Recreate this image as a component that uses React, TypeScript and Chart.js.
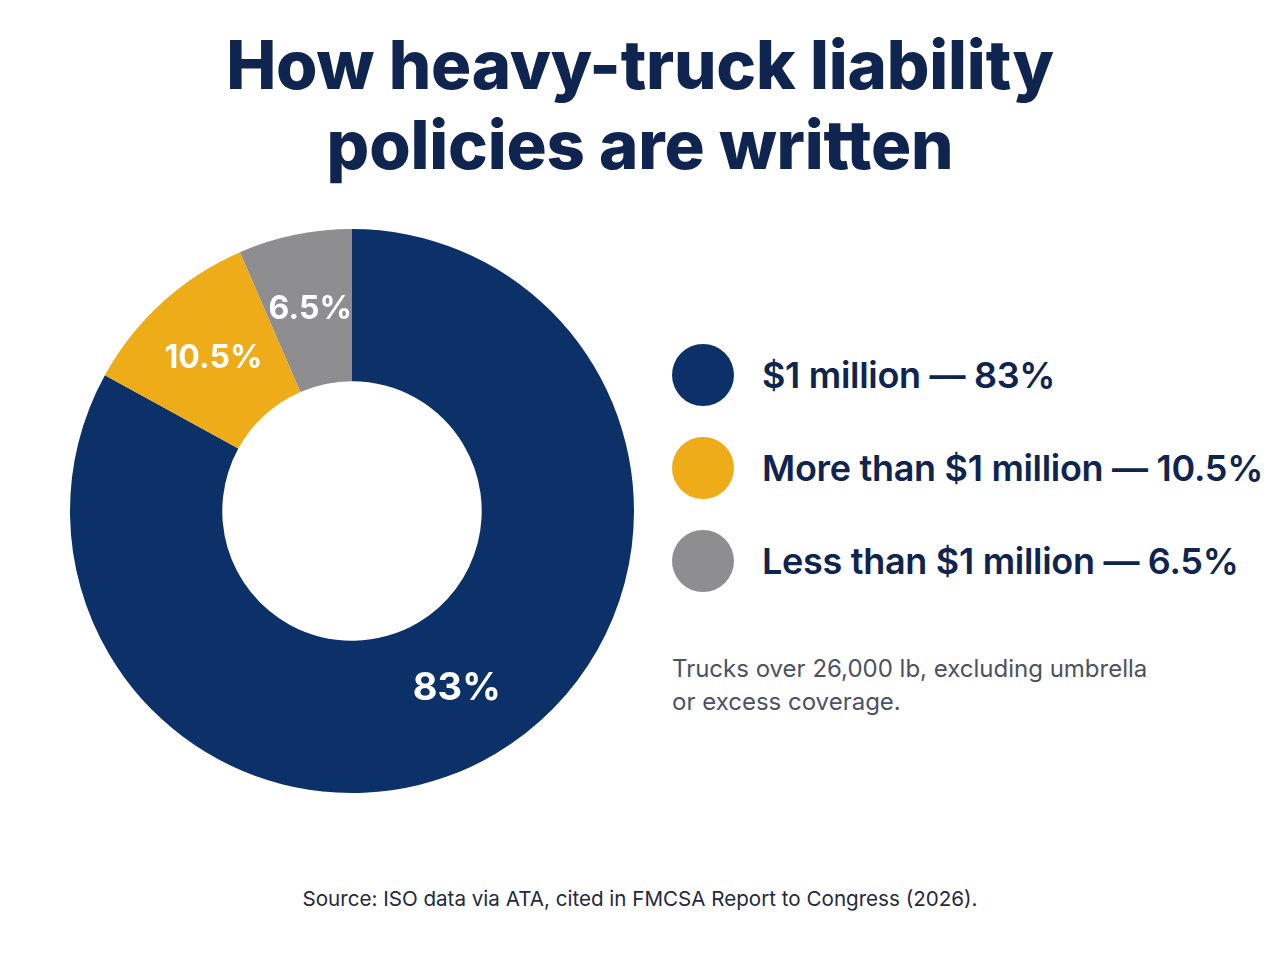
import { Chart, registerables } from "chart.js";
import React, { useEffect, useRef } from "react";

Chart.register(...registerables);

const categories = ["$1 million", "More than $1 million", "Less than $1 million"];
const shares = [83, 10.5, 6.5];
const sliceColors = ["#0b3168", "#eeac18", "#8e8e90"];
const shareLabels = ["83%", "10.5%", "6.5%"];

const NAVY_TEXT = "#0f2550";
const FONT = "Inter, 'Noto Sans', sans-serif";

const sliceLabels = {
  id: "sliceLabels",
  afterDatasetsDraw(chart: Chart) {
    const ctx = chart.ctx;
    const meta = chart.getDatasetMeta(0);
    ctx.save();
    ctx.fillStyle = "#ffffff";
    ctx.textAlign = "center";
    ctx.textBaseline = "middle";
    meta.data.forEach((arc: any, i: number) => {
      const size = i === 0 ? 38 : 32;
      ctx.font = `700 ${size}px ${FONT}`;
      const p = arc.tooltipPosition();
      ctx.fillText(shareLabels[i], p.x, p.y);
    });
    ctx.restore();
  },
};

const App: React.FC = () => {
  const chartRef = useRef<HTMLCanvasElement | null>(null);

  useEffect(() => {
    document.body.style.margin = "0";
    if (!chartRef.current) return;
    const chart = new Chart(chartRef.current, {
      type: "doughnut",
      data: {
        labels: categories,
        datasets: [
          {
            data: shares,
            backgroundColor: sliceColors,
            borderWidth: 0,
          },
        ],
      },
      options: {
        responsive: false,
        animation: false,
        cutout: "46%",
        layout: { padding: 10 },
        plugins: {
          legend: { display: false },
          tooltip: { enabled: false },
        },
      },
      plugins: [sliceLabels],
    });
    return () => {
      chart.destroy();
    };
  }, []);

  return (
    <div
      style={{
        position: "absolute",
        left: 0,
        top: 0,
        width: 1280,
        height: 960,
        background: "#ffffff",
        fontFamily: FONT,
        color: NAVY_TEXT,
      }}
    >
      <div
        style={{
          position: "absolute",
          left: 0,
          top: 25,
          width: 1280,
          textAlign: "center",
          fontSize: 67,
          fontWeight: 800,
          lineHeight: "80px",
          letterSpacing: "-0.2px",
        }}
      >
        How heavy-truck liability
        <br />
        policies are written
      </div>

      <canvas
        ref={chartRef}
        width={584}
        height={584}
        style={{ position: "absolute", left: 60, top: 219, width: 584, height: 584 }}
      />

      {categories.map((c, i) => (
        <div
          key={c}
          style={{
            position: "absolute",
            left: 672,
            top: 344 + i * 93,
            height: 62,
            display: "flex",
            alignItems: "center",
            whiteSpace: "nowrap",
          }}
        >
          <span
            style={{
              width: 62,
              height: 62,
              borderRadius: "50%",
              background: sliceColors[i],
              display: "inline-block",
            }}
          />
          <span style={{ marginLeft: 28, fontSize: 36, fontWeight: 600, letterSpacing: "-0.3px" }}>
            {c} — {shareLabels[i]}
          </span>
        </div>
      ))}

      <div
        style={{
          position: "absolute",
          left: 672,
          top: 652,
          fontSize: 24,
          lineHeight: "33px",
          color: "#4b5263",
        }}
      >
        Trucks over 26,000 lb, excluding umbrella
        <br />
        or excess coverage.
      </div>

      <div
        style={{
          position: "absolute",
          left: 0,
          top: 886,
          width: 1280,
          textAlign: "center",
          fontSize: 20.6,
          color: "#1f2a3d",
        }}
      >
        Source: ISO data via ATA, cited in FMCSA Report to Congress (2026).
      </div>
    </div>
  );
};

export default App;
